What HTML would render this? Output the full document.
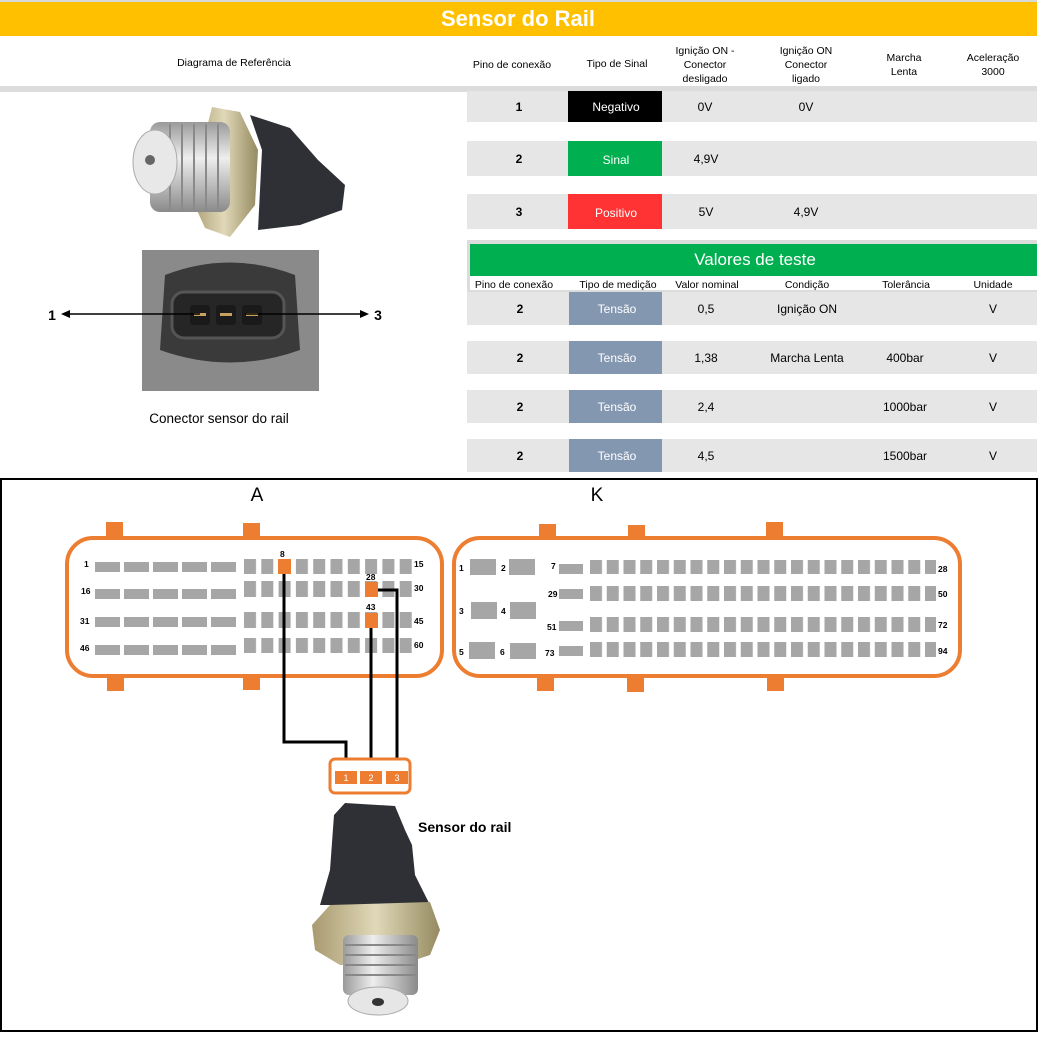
<!DOCTYPE html>
<html><head><meta charset="utf-8"><style>
html,body{margin:0;padding:0;background:#fff;}
svg{display:block;font-family:"Liberation Sans",Arial,sans-serif;}
</style></head><body>
<svg width="1043" height="1041" viewBox="0 0 1043 1041" xmlns="http://www.w3.org/2000/svg">
<defs>
<pattern id="pa" patternUnits="userSpaceOnUse" x="244" y="0" width="17.3" height="20"><rect x="0" y="0" width="12" height="20" fill="#a6a6a6"/></pattern>
<pattern id="pw" patternUnits="userSpaceOnUse" x="95" y="0" width="29" height="20"><rect x="0" y="0" width="25" height="20" fill="#a6a6a6"/></pattern>
<pattern id="pk" patternUnits="userSpaceOnUse" x="590" y="0" width="16.75" height="20"><rect x="0" y="0" width="12" height="20" fill="#a6a6a6"/></pattern>
<linearGradient id="met" x1="0" x2="1"><stop offset="0" stop-color="#9a9a9a"/><stop offset="0.4" stop-color="#eeeeee"/><stop offset="1" stop-color="#8a8a8a"/></linearGradient>
<linearGradient id="metv" x1="0" x2="0" y1="0" y2="1"><stop offset="0" stop-color="#9a9a9a"/><stop offset="0.4" stop-color="#eeeeee"/><stop offset="1" stop-color="#8a8a8a"/></linearGradient>
<linearGradient id="gold" x1="0" x2="1"><stop offset="0" stop-color="#a89a70"/><stop offset="0.5" stop-color="#e0d8b8"/><stop offset="1" stop-color="#958a60"/></linearGradient>
</defs>

<rect x="0" y="0" width="1043" height="2" fill="#d9d9d9"/>
<rect x="0" y="2" width="1037" height="34" fill="#ffc000"/>
<text x="518" y="26" font-size="22" font-weight="bold" fill="#fff" text-anchor="middle">Sensor do Rail</text>
<rect x="1037" y="0" width="6" height="480" fill="#fff"/>
<g font-size="10.5" fill="#000" text-anchor="middle">
<text x="234" y="66">Diagrama de Referência</text>
<text x="512" y="68">Pino de conexão</text>
<text x="617" y="67">Tipo de Sinal</text>
<text x="705" y="54">Ignição ON -</text><text x="705" y="68">Conector</text><text x="705" y="82">desligado</text>
<text x="806" y="54">Ignição ON</text><text x="806" y="68">Conector</text><text x="806" y="82">ligado</text>
<text x="904" y="61">Marcha</text><text x="904" y="75">Lenta</text>
<text x="993" y="61">Aceleração</text><text x="993" y="75">3000</text>
</g>
<rect x="0" y="86" width="1037" height="6" fill="#dcdcdc"/>

<g font-size="12" text-anchor="middle">
<rect x="467" y="91" width="570" height="31" fill="#e6e6e6"/>
<rect x="568" y="91" width="94" height="31" fill="#000"/>
<text x="519" y="111" font-weight="bold">1</text><text x="616" y="111" fill="#fff">Negativo</text>
<text x="705" y="111">0V</text><text x="806" y="111">0V</text>
<rect x="467" y="141" width="570" height="35" fill="#e6e6e6"/>
<rect x="568" y="141" width="94" height="35" fill="#00b050"/>
<text x="519" y="163" font-weight="bold">2</text><text x="616" y="164" fill="#fff">Sinal</text>
<text x="706" y="163">4,9V</text>
<rect x="467" y="194" width="570" height="35" fill="#e6e6e6"/>
<rect x="568" y="194" width="94" height="35" fill="#ff3333"/>
<text x="519" y="216" font-weight="bold">3</text><text x="616" y="217" fill="#fff">Positivo</text>
<text x="706" y="216">5V</text><text x="806" y="216">4,9V</text>
</g>

<rect x="467" y="240" width="570" height="4" fill="#dcdcdc"/>
<rect x="467" y="240" width="3" height="52" fill="#dcdcdc"/>
<rect x="470" y="244" width="567" height="32" fill="#00b050"/>
<text x="755" y="265" font-size="17" fill="#fff" text-anchor="middle">Valores de teste</text>
<g font-size="10.5" text-anchor="middle">
<text x="514" y="288">Pino de conexão</text><text x="618" y="288">Tipo de medição</text>
<text x="707" y="288">Valor nominal</text><text x="807" y="288">Condição</text>
<text x="906" y="288">Tolerância</text><text x="993" y="288">Unidade</text>
</g>
<rect x="467" y="290" width="570" height="2" fill="#dcdcdc"/>
<g font-size="12" text-anchor="middle">
<rect x="467" y="292" width="570" height="33" fill="#e6e6e6"/><rect x="569" y="292" width="93" height="33" fill="#8497b0"/>
<text x="520" y="313" font-weight="bold">2</text><text x="617" y="313" fill="#fff">Tensão</text><text x="706" y="313">0,5</text><text x="807" y="313">Ignição ON</text><text x="993" y="313">V</text>
<rect x="467" y="341" width="570" height="33" fill="#e6e6e6"/><rect x="569" y="341" width="93" height="33" fill="#8497b0"/>
<text x="520" y="362" font-weight="bold">2</text><text x="617" y="362" fill="#fff">Tensão</text><text x="706" y="362">1,38</text><text x="807" y="362">Marcha Lenta</text><text x="905" y="362">400bar</text><text x="993" y="362">V</text>
<rect x="467" y="390" width="570" height="33" fill="#e6e6e6"/><rect x="569" y="390" width="93" height="33" fill="#8497b0"/>
<text x="520" y="411" font-weight="bold">2</text><text x="617" y="411" fill="#fff">Tensão</text><text x="706" y="411">2,4</text><text x="905" y="411">1000bar</text><text x="993" y="411">V</text>
<rect x="467" y="439" width="570" height="33" fill="#e6e6e6"/><rect x="569" y="439" width="93" height="33" fill="#8497b0"/>
<text x="520" y="460" font-weight="bold">2</text><text x="617" y="460" fill="#fff">Tensão</text><text x="706" y="460">4,5</text><text x="905" y="460">1500bar</text><text x="993" y="460">V</text>
</g>

<!-- top sensor photo -->
<g>
<path d="M212 107 L240 112 L258 150 L255 205 L230 237 L205 228 L190 195 Z" fill="url(#gold)"/>
<path d="M250 115 L290 128 L318 160 L345 185 L342 210 L300 225 L258 230 L262 150 Z" fill="#2e3035"/>
<rect x="150" y="122" width="80" height="90" rx="10" fill="url(#metv)"/>
<g stroke="#8a8a8a" stroke-width="2"><line x1="170" y1="124" x2="170" y2="210"/><line x1="182" y1="124" x2="182" y2="210"/><line x1="194" y1="124" x2="194" y2="210"/><line x1="206" y1="124" x2="206" y2="210"/><line x1="218" y1="124" x2="218" y2="210"/></g>
<ellipse cx="155" cy="162" rx="22" ry="32" fill="#e8e8e8" stroke="#aaa"/>
<circle cx="150" cy="160" r="5" fill="#666"/>
</g>

<rect x="142" y="250" width="177" height="141" fill="#8a8a8a"/>
<path d="M165 275 Q230 250 295 275 L300 350 Q230 375 160 350 Z" fill="#3a3a3a"/>
<rect x="172" y="292" width="112" height="46" rx="12" fill="#262626" stroke="#555" stroke-width="3"/>
<rect x="190" y="305" width="20" height="20" rx="3" fill="#1a1a1a"/><rect x="216" y="305" width="20" height="20" rx="3" fill="#1a1a1a"/><rect x="242" y="305" width="20" height="20" rx="3" fill="#1a1a1a"/>
<rect x="194" y="313" width="12" height="3" fill="#c8a060"/><rect x="220" y="313" width="12" height="3" fill="#c8a060"/><rect x="246" y="313" width="12" height="3" fill="#c8a060"/>
<line x1="66" y1="314" x2="200" y2="314" stroke="#000" stroke-width="1.5"/>
<polygon points="61,314 70,310 70,318" fill="#000"/>
<line x1="245" y1="314" x2="364" y2="314" stroke="#000" stroke-width="1.5"/>
<polygon points="369,314 360,310 360,318" fill="#000"/>
<text x="52" y="320" font-size="14" font-weight="bold" text-anchor="middle">1</text>
<text x="378" y="320" font-size="14" font-weight="bold" text-anchor="middle">3</text>
<text x="219" y="423" font-size="13.5" text-anchor="middle">Conector sensor do rail</text>

<rect x="1" y="479" width="1036" height="552" fill="none" stroke="#000" stroke-width="2"/>
<text x="257" y="501" font-size="19" text-anchor="middle">A</text>
<text x="597" y="501" font-size="19" text-anchor="middle">K</text>

<g fill="#ed7d31">
<rect x="106" y="522" width="17" height="17"/><rect x="243" y="523" width="17" height="16"/>
<rect x="107" y="675" width="17" height="16"/><rect x="243" y="675" width="17" height="15"/>
<rect x="539" y="524" width="17" height="15"/><rect x="628" y="525" width="17" height="14"/><rect x="766" y="522" width="17" height="17"/>
<rect x="537" y="675" width="17" height="16"/><rect x="627" y="675" width="17" height="17"/><rect x="767" y="675" width="17" height="16"/>
</g>
<rect x="67" y="538" width="375" height="138" rx="26" fill="#fff" stroke="#ed7d31" stroke-width="4"/>
<rect x="454" y="538" width="506" height="138" rx="26" fill="#fff" stroke="#ed7d31" stroke-width="4"/>

<rect x="95" y="562" width="142" height="10" fill="url(#pw)"/>
<rect x="95" y="589" width="142" height="10" fill="url(#pw)"/>
<rect x="95" y="617" width="142" height="10" fill="url(#pw)"/>
<rect x="95" y="645" width="142" height="10" fill="url(#pw)"/>
<rect x="244" y="559" width="168" height="15" fill="url(#pa)"/>
<rect x="244" y="581" width="168" height="16" fill="url(#pa)"/>
<rect x="244" y="612" width="168" height="16" fill="url(#pa)"/>
<rect x="244" y="638" width="168" height="15" fill="url(#pa)"/>
<g fill="#ed7d31"><rect x="278" y="559" width="13" height="15"/><rect x="365" y="582" width="13" height="15"/><rect x="365" y="613" width="13" height="15"/></g>
<g font-size="8.5" font-weight="bold">
<text x="84" y="567">1</text><text x="81" y="594">16</text><text x="80" y="624">31</text><text x="80" y="651">46</text>
<text x="414" y="567">15</text><text x="414" y="591">30</text><text x="414" y="624">45</text><text x="414" y="648">60</text>
<text x="280" y="557">8</text><text x="366" y="580">28</text><text x="366" y="610">43</text>
</g>
<g fill="#a6a6a6">
<rect x="470" y="559" width="26" height="16"/><rect x="509" y="559" width="26" height="16"/>
<rect x="471" y="602" width="26" height="17"/><rect x="510" y="602" width="26" height="17"/>
<rect x="469" y="642" width="26" height="17"/><rect x="510" y="643" width="26" height="16"/>
<rect x="559" y="564" width="24" height="10"/><rect x="559" y="589" width="24" height="10"/>
<rect x="559" y="621" width="24" height="10"/><rect x="559" y="646" width="24" height="10"/>
</g>
<rect x="590" y="560" width="346" height="14" fill="url(#pk)"/>
<rect x="590" y="586" width="346" height="15" fill="url(#pk)"/>
<rect x="590" y="617" width="346" height="15" fill="url(#pk)"/>
<rect x="590" y="642" width="346" height="15" fill="url(#pk)"/>
<g font-size="8.5" font-weight="bold">
<text x="459" y="571">1</text><text x="501" y="571">2</text><text x="459" y="614">3</text><text x="501" y="614">4</text>
<text x="459" y="655">5</text><text x="500" y="655">6</text>
<text x="551" y="569">7</text><text x="548" y="597">29</text><text x="547" y="630">51</text><text x="545" y="656">73</text>
<text x="938" y="572">28</text><text x="938" y="597">50</text><text x="938" y="628">72</text><text x="938" y="654">94</text>
</g>

<g fill="none" stroke="#000" stroke-width="3">
<polyline points="284,574 284,742 346,742 346,762"/>
<polyline points="371,628 371,762"/>
<polyline points="378,590 397,590 397,762"/>
</g>
<rect x="330" y="759" width="80" height="34" rx="5" fill="#fff" stroke="#ed7d31" stroke-width="3"/>
<g fill="#ed7d31"><rect x="335" y="771" width="22" height="13"/><rect x="360" y="771" width="22" height="13"/><rect x="386" y="771" width="22" height="13"/></g>
<g font-size="9" fill="#fff" text-anchor="middle"><text x="346" y="781">1</text><text x="371" y="781">2</text><text x="397" y="781">3</text></g>

<path d="M334 815 L345 803 L395 806 L405 830 L412 845 L415 875 L430 905 L320 905 L330 870 Z" fill="#2e3035"/>
<path d="M312 925 L330 905 L430 902 L440 930 L430 955 L400 965 L340 965 L315 950 Z" fill="url(#gold)"/>
<rect x="343" y="935" width="75" height="60" rx="6" fill="url(#met)"/>
<g stroke="#888" stroke-width="2"><line x1="345" y1="945" x2="416" y2="945"/><line x1="345" y1="955" x2="416" y2="955"/><line x1="345" y1="965" x2="416" y2="965"/><line x1="345" y1="975" x2="416" y2="975"/></g>
<ellipse cx="378" cy="1001" rx="30" ry="14" fill="#e6e6e6" stroke="#aaa"/>
<ellipse cx="378" cy="1002" rx="6" ry="4" fill="#333"/>
<text x="418" y="832" font-size="14" font-weight="bold">Sensor do rail</text>
</svg>
</body></html>
